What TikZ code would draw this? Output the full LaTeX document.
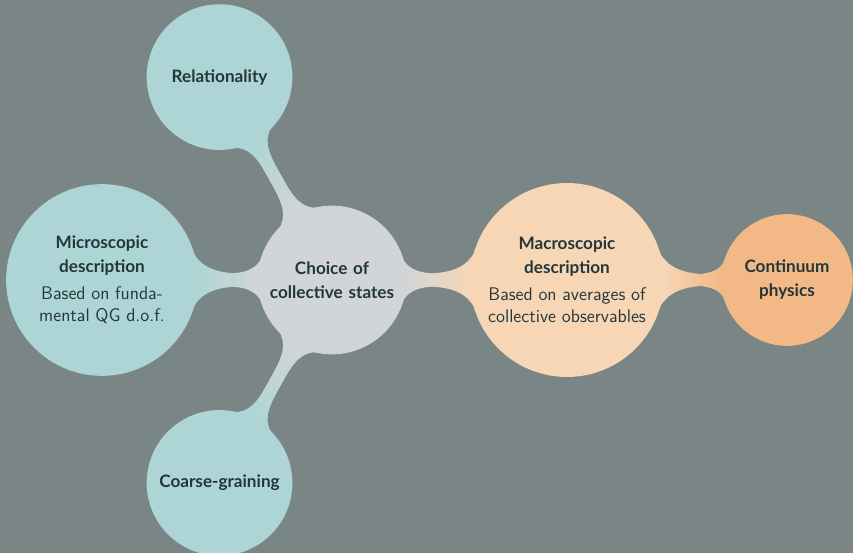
\documentclass[tikz,border=0pt]{standalone}
\usepackage{fontspec}
\usepackage{tikz}
\usetikzlibrary{mindmap,positioning}
\newfontfamily\headfont{Lato}
\definecolor{bg}{HTML}{7A8586}
\definecolor{ink}{HTML}{23373B}
\definecolor{hub}{HTML}{D1D5D7}
\definecolor{mint}{HTML}{AED5D5}
\definecolor{peach}{HTML}{F7D6B6}
\definecolor{amber}{HTML}{F2B886}

\tikzset{
    idea/.style={concept, text=ink, inner sep=0pt, align=center,
        font=\headfont\bfseries\fontsize{12.2}{17}\selectfont},
    bar/.style={line width=10pt}
}
\newcommand{\detail}[1]{\par\vspace{3pt}%
    {\normalfont\sffamily\fontsize{13}{16}\selectfont #1\par}}

\begin{document}
\begin{tikzpicture}[mindmap]
    \fill[bg] (-8.3,-6.825) rectangle (13.025,7.0);
    \useasboundingbox (-8.3,-6.825) rectangle (13.025,7.0);

    \node[idea, concept color=hub, minimum size=3.675cm, text width=3.2cm]
        (choice) at (0,0) {Choice of\\collective states};
    \node[idea, concept color=mint, minimum size=4.75cm, text width=3.8cm]
        (micro) at (180:5.75) {Microscopic\\description
        \detail{Based on funda-\\mental QG d.o.f.}};
    \node[idea, concept color=mint, minimum size=3.6cm, text width=3.2cm]
        (rel) at (119:5.8) {Relationality};
    \node[idea, concept color=mint, minimum size=3.6cm, text width=3.2cm]
        (coarse) at (241:5.8) {Coarse-graining};
    \node[idea, concept color=peach, minimum size=4.75cm, text width=4.3cm]
        (macro) at (0:5.875) {Macroscopic\\description
        \detail{Based on averages of\\collective observables}};
    \node[idea, concept color=amber, minimum size=3.25cm, text width=2.8cm]
        (cont) at (11.375,0) {Continuum\\physics};

    \path[bar] (choice) to[circle connection bar switch color=from (hub) to (mint)] (micro);
    \path[bar] (choice) to[circle connection bar switch color=from (hub) to (mint)] (rel);
    \path[bar] (choice) to[circle connection bar switch color=from (hub) to (mint)] (coarse);
    \path[bar] (choice) to[circle connection bar switch color=from (hub) to (peach)] (macro);
    \path[bar] (macro) to[circle connection bar switch color=from (peach) to (amber)] (cont);
\end{tikzpicture}
\end{document}
